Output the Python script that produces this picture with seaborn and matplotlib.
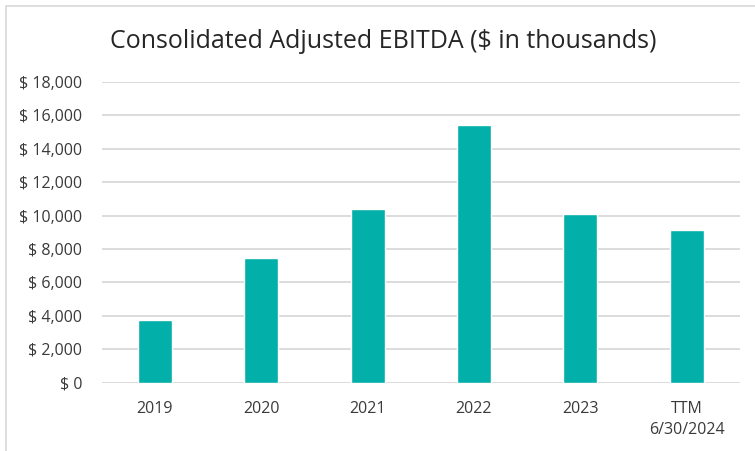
import matplotlib
matplotlib.use("Agg")
import matplotlib.pyplot as plt
import matplotlib.ticker as mticker
from matplotlib.lines import Line2D
import seaborn as sns
import pandas as pd

# Consolidated Adjusted EBITDA by period ($ in thousands)
periods = ["2019", "2020", "2021", "2022", "2023", "TTM\n6/30/2024"]
ebitda = [3780, 7460, 10380, 15440, 10100, 9140]
y_ticks = list(range(0, 18001, 2000))

df = pd.DataFrame({"period": periods, "ebitda": ebitda})

sns.set_theme(style="white")
plt.rcParams["font.family"] = ["Open Sans", "DejaVu Sans"]

fig = plt.figure(figsize=(7.55, 4.51), dpi=100)
ax = fig.add_axes([0.1347, 0.1514, 0.8453, 0.667])

sns.barplot(data=df, x="period", y="ebitda", color="#02AFA9",
            saturation=1, width=0.32, ax=ax)

ax.set_ylim(0, 18000)
ax.set_yticks(y_ticks)
ax.yaxis.set_major_formatter(mticker.FuncFormatter(lambda v, _: f"$ {v:,.0f}"))
ax.grid(axis="y", color="#D9D9D9", linewidth=1.3)
ax.set_axisbelow(True)
for s in ax.spines.values():
    s.set_visible(False)
ax.tick_params(axis="both", length=0, labelsize=11.5, colors="#3A3A3A")
ax.tick_params(axis="y", pad=14)
ax.tick_params(axis="x", pad=13)
for lbl in ax.get_xticklabels():
    lbl.set_linespacing(1.45)
    lbl.set_multialignment("center")
ax.set_xlabel("")
ax.set_ylabel("")

fig.text(0.507, 0.908, "Consolidated Adjusted EBITDA ($ in thousands)",
         ha="center", va="center", fontsize=18, color="#262626")

# light frame along the top and left of the chart area
x0 = 5.5 / 755
y0 = 1 - 5.5 / 451
fig.add_artist(Line2D([x0, 1], [y0, y0], transform=fig.transFigure,
                      color="#D9D9D9", linewidth=1.2))
fig.add_artist(Line2D([x0, x0], [0, y0], transform=fig.transFigure,
                      color="#D9D9D9", linewidth=1.2))

fig.savefig("out.png", dpi=100)
